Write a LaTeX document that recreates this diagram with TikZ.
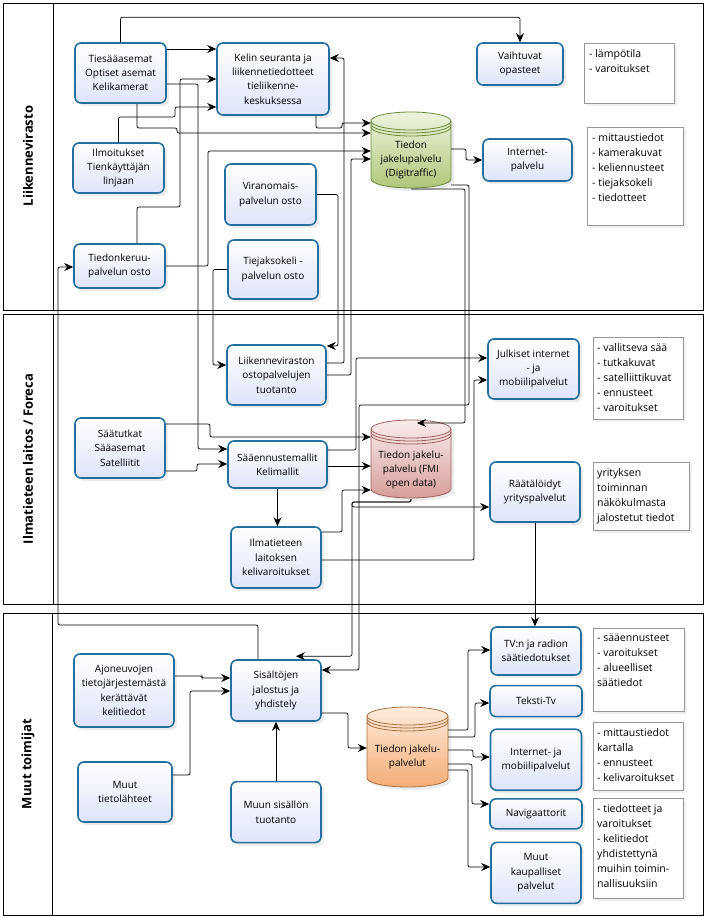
\documentclass[tikz,border=0pt]{standalone}
\usepackage{fontspec}
\setmainfont{Open Sans}
\usetikzlibrary{arrows.meta,positioning,shadows}

\definecolor{boxline}{RGB}{35,112,160}
\definecolor{boxfill}{RGB}{222,228,250}
\definecolor{notegray}{RGB}{150,150,150}
\definecolor{greentop}{RGB}{238,244,222}
\definecolor{greenbot}{RGB}{176,198,122}
\definecolor{greenline}{RGB}{108,136,58}
\definecolor{redtop}{RGB}{250,236,236}
\definecolor{redbot}{RGB}{214,158,154}
\definecolor{redline}{RGB}{158,96,92}
\definecolor{orangetop}{RGB}{254,236,220}
\definecolor{orangebot}{RGB}{244,172,118}
\definecolor{orangeline}{RGB}{168,112,64}

\begin{document}
\begin{tikzpicture}[
    x=1pt, y=-1pt,
    box/.style={rectangle, draw=boxline, line width=1.6pt, rounded corners=6pt, top color=white, bottom color=boxfill, align=center, inner sep=1pt, font={\fontsize{10}{14.3}\selectfont}, drop shadow={shadow xshift=3pt, shadow yshift=-3pt, opacity=0.15}},
    notebox/.style={draw=notegray, line width=0.8pt, fill=white, drop shadow={shadow xshift=3pt, shadow yshift=-3pt, opacity=0.12}},
    notetext/.style={anchor=north west, align=left, inner sep=0pt, font={\fontsize{10.5}{15}\selectfont}},
    cyl/.style={line width=0.8pt, drop shadow={shadow xshift=3pt, shadow yshift=-3pt, opacity=0.15}},
    cyltext/.style={align=center, inner sep=0pt, minimum width=80pt, font={\fontsize{10}{14.3}\selectfont}},
    lane/.style={draw, line width=0.8pt},
    lanelabel/.style={rotate=90, font={\fontsize{13}{15}\selectfont\bfseries}},
    line/.style={draw, line width=0.7pt, rounded corners=2pt},
    arrow/.style={line, -{Stealth[length=9pt,width=8pt,inset=3pt]}}
]
\useasboundingbox (0,0) rectangle (704,918);

% lanes
\draw[lane] (3,3) rectangle (703,310);
\draw[lane] (53,3) -- (53,310);
\draw[lane] (3,314) rectangle (703,604);
\draw[lane] (53,314) -- (53,604);
\draw[lane] (3,613) rectangle (703,915);
\draw[lane] (52,613) -- (52,915);
\node[lanelabel] (lab1) at (28,156) {Liikennevirasto};
\node[lanelabel] (lab2) at (28,459) {Ilmatieteen laitos / Foreca};
\node[lanelabel] (lab3) at (28,764) {Muut toimijat};

% Liikennevirasto
\node[box, minimum width=91, minimum height=60] (tiesaa) at (120.5,73) {Tiesääasemat\\Optiset asemat\\Kelikamerat};
\node[box, minimum width=112, minimum height=72] (kelin) at (273,79) {Kelin seuranta ja\\liikennetiedotteet\\tieliikenne-\\keskuksessa};
\node[box, minimum width=91, minimum height=50] (ilmo) at (118.5,168) {Ilmoitukset\\Tienkäyttäjän\\linjaan};
\node[box, minimum width=91, minimum height=61] (virano) at (270.5,194.5) {Viranomais-\\palvelun osto};
\node[box, minimum width=91, minimum height=44] (tiedonk) at (119.5,266) {Tiedonkeruu-\\palvelun osto};
\node[box, minimum width=90, minimum height=59] (tiejakso) at (273,269.5) {Tiejaksokeli -\\palvelun osto};
\node[box, minimum width=86, minimum height=42] (vaiht) at (520,64) {Vaihtuvat\\opasteet};
\node[box, minimum width=89, minimum height=42] (intp) at (527.5,160) {Internet-\\palvelu};

\draw[cyl, top color=greentop, bottom color=greenbot, draw=greenline] (371,121) -- (371,179) arc[start angle=180, end angle=0, x radius=40, y radius=9] -- (451,121) arc[start angle=0, end angle=-180, x radius=40, y radius=9] -- cycle;
\draw[greenline, line width=0.8pt] (371,121) arc[start angle=180, end angle=0, x radius=40, y radius=9]
    (371,124) arc[start angle=180, end angle=0, x radius=40, y radius=9]
    (371,127) arc[start angle=180, end angle=0, x radius=40, y radius=9];
\node[cyltext] (digi) at (411,160) {Tiedon\\jakelupalvelu\\(Digitraffic)};

\draw[notebox] (584,43) rectangle (674,103);
\node[notetext] (n1) at (589,49) {- lämpötila\\- varoitukset};
\draw[notebox] (587,127) rectangle (683,225);
\node[notetext] (n2) at (592,133) {- mittaustiedot\\- kamerakuvat\\- keliennusteet\\- tiejaksokeli\\- tiedotteet};

% Ilmatieteen laitos / Foreca
\node[box, minimum width=99, minimum height=60] (liikost) at (276.5,375) {Liikenneviraston\\ostopalvelujen\\tuotanto};
\node[box, minimum width=90, minimum height=60] (saatut) at (120,448) {Säätutkat\\Sääasemat\\Satelliitit};
\node[box, minimum width=99, minimum height=47] (saaenn) at (277.5,464.5) {Sääennustemallit\\Kelimallit};
\node[box, minimum width=90, minimum height=61] (ilmvar) at (276,557.5) {Ilmatieteen\\laitoksen\\kelivaroitukset};
\node[box, minimum width=91, minimum height=60] (julk) at (533.5,369) {Julkiset internet\\- ja\\mobiilipalvelut};
\node[box, minimum width=90, minimum height=60] (raat) at (535,492) {Räätälöidyt\\yrityspalvelut};

\draw[cyl, top color=redtop, bottom color=redbot, draw=redline] (371,429) -- (371,489) arc[start angle=180, end angle=0, x radius=40, y radius=9] -- (451,429) arc[start angle=0, end angle=-180, x radius=40, y radius=9] -- cycle;
\draw[redline, line width=0.8pt] (371,429) arc[start angle=180, end angle=0, x radius=40, y radius=9]
    (371,432) arc[start angle=180, end angle=0, x radius=40, y radius=9]
    (371,435) arc[start angle=180, end angle=0, x radius=40, y radius=9];
\node[cyltext] (fmi) at (411,470) {Tiedon jakelu-\\palvelu (FMI\\open data)};

\draw[notebox] (593,337) rectangle (683,419);
\node[notetext] (n3) at (597,343) {- vallitseva sää\\- tutkakuvat\\- satelliittikuvat\\- ennusteet\\- varoitukset};
\draw[notebox] (593,462) rectangle (689,530);
\node[notetext] (n4) at (597,468) {yrityksen\\toiminnan\\näkökulmasta\\jalostetut tiedot};

% Muut toimijat
\node[box, minimum width=100, minimum height=73] (ajon) at (124,690.5) {Ajoneuvojen\\tietojärjestemästä\\kerättävät\\kelitiedot};
\node[box, minimum width=94, minimum height=60] (muutt) at (125,792) {Muut\\tietolähteet};
\node[box, minimum width=90, minimum height=61] (sis) at (276,690.5) {Sisältöjen\\jalostus ja\\yhdistely};
\node[box, minimum width=90, minimum height=61, below=59pt of sis] (muun) {Muun sisällön\\tuotanto};
\node[box, minimum width=90, minimum height=48] (tvr) at (536,651) {TV:n ja radion\\säätiedotukset};
\node[box, minimum width=92, minimum height=31, below=9pt of tvr] (teksti) {Teksti-Tv};
\node[box, minimum width=91, minimum height=61, below=11pt of teksti] (intm) {Internet- ja\\mobiilipalvelut};
\node[box, minimum width=92, minimum height=30, below=7pt of intm] (navi) {Navigaattorit};
\node[box, minimum width=90, minimum height=61, below=12pt of navi] (muutk) {Muut\\kaupalliset\\palvelut};

\draw[cyl, top color=orangetop, bottom color=orangebot, draw=orangeline] (367,716) -- (367,778) arc[start angle=180, end angle=0, x radius=40.5, y radius=9] -- (448,716) arc[start angle=0, end angle=-180, x radius=40.5, y radius=9] -- cycle;
\draw[orangeline, line width=0.8pt] (367,716) arc[start angle=180, end angle=0, x radius=40.5, y radius=9]
    (367,719) arc[start angle=180, end angle=0, x radius=40.5, y radius=9]
    (367,722) arc[start angle=180, end angle=0, x radius=40.5, y radius=9];
\node[cyltext, minimum width=81pt] (jakel) at (407.5,757) {Tiedon jakelu-\\palvelut};

\draw[notebox] (593,628) rectangle (684,711);
\node[notetext] (n5) at (597,634) {- sääennusteet\\- varoitukset\\- alueelliset\\säätiedot};
\draw[notebox] (593,722) rectangle (683,790);
\node[notetext] (n6) at (597,728) {- mittaustiedot\\kartalla\\- ennusteet\\- kelivaroitukset};
\draw[notebox] (593,798) rectangle (683,898);
\node[notetext] (n7) at (597,804) {- tiedotteet ja\\varoitukset\\- kelitiedot\\yhdistettynä\\muihin toimin-\\nallisuuksiin};

% connectors, lane 1
\draw[arrow] (tiesaa.north) -- ++(0,-25) -| (vaiht.north);
\draw[arrow] (tiesaa.east |- 0,49) -- (kelin.west |- 0,49);
\draw[arrow] (tiesaa.east |- 0,84) -| (198,449) -- (saaenn.west |- 0,449);
\draw[arrow] (tiedonk.north -| 137,0) |- (180,207) |- (kelin.west |- 0,79);
\draw[arrow] (ilmo.north) |- (175,117) |- (kelin.west |- 0,107);
\draw[arrow] (tiesaa.south -| 137,0) |- (177,128) |- (digi.west |- 0,133);
\draw[arrow] (kelin.south -| 316,0) |- (342,128) |- (digi.west |- 0,123);
\draw[arrow] (tiedonk.east) -| (208,151) -- (digi.west |- 0,151);
\draw[arrow] (liikost.east |- 0,375) -| (351,159) -- (digi.west |- 0,159);
\draw[arrow] (liikost.east |- 0,363) -| (344,58) -- (kelin.east |- 0,58);
\draw[arrow] (virano.east) -| (338,346) -- (liikost.east |- 0,346);
\draw[arrow] (tiejakso.west) -| (213,365) -- (liikost.west |- 0,365);
\draw[arrow] (digi.east |- 0,149) -| (466,160) -- (intp.west);
\draw[arrow] (digi |- 0,189) -| (465,423) -- ([xshift=6pt]fmi.center |- 0,423);
\draw[arrow] (digi.east |- 0,185) -| (469,405) -| (359,670) -- (sis.east |- 0,670);

% connectors, lane 2
\draw[arrow] (saatut.east |- 0,424) -| (210,437) -- (fmi.west |- 0,437);
\draw[arrow] (saatut.east |- 0,471) -| (197,464) -- (saaenn.west |- 0,464);
\draw[arrow] (saaenn.east |- 0,450) -| (356,358) -- (julk.west |- 0,358);
\draw[arrow] (saaenn.east |- 0,466) -- (fmi.west |- 0,466);
\draw[arrow] (saaenn.south) -- (saaenn.south |- ilmvar.north);
\draw[arrow] (ilmvar.east |- 0,532) -| (342,490) -- (fmi.west |- 0,490);
\draw[arrow] (ilmvar.east |- 0,560) -| (474,380) -- (julk.west |- 0,380);
\draw[arrow] (fmi |- 0,499) |- (352,502) |- (raat.west |- 0,507);
\draw[arrow] (fmi |- 0,499) |- (352,502) |- ([xshift=20pt,yshift=3pt]sis.north);
\draw[arrow] (raat.south) -- (raat.south |- tvr.north);

% connectors, lane 3
\draw[arrow] (sis.north -| 258,0) |- (58,625) |- (tiedonk.west |- 0,267);
\draw[arrow] (ajon.east |- 0,676) -| (202,678) -- (sis.west |- 0,678);
\draw[arrow] (muutt.east |- 0,775) -| (190,691) -- (sis.west |- 0,691);
\draw[arrow] (muun.north) -- (sis.south);
\draw[arrow] (sis.east |- 0,713) -| (348,748) -- (jakel.west |- 0,748);
\draw[arrow] (jakel.east |- 0,730) -| (468,650) -- (tvr.west |- 0,650);
\draw[arrow] (jakel.east |- 0,737) -| (475,703) -- (teksti.west |- 0,703);
\draw[arrow] (jakel.east |- 0,750) -| (473,757) -- (intm.west |- 0,757);
\draw[arrow] (jakel.east |- 0,764) -| (472,804) -- (navi.west |- 0,804);
\draw[arrow] (jakel.east |- 0,770) -| (468,867) -- (muutk.west |- 0,867);

\end{tikzpicture}
\end{document}
